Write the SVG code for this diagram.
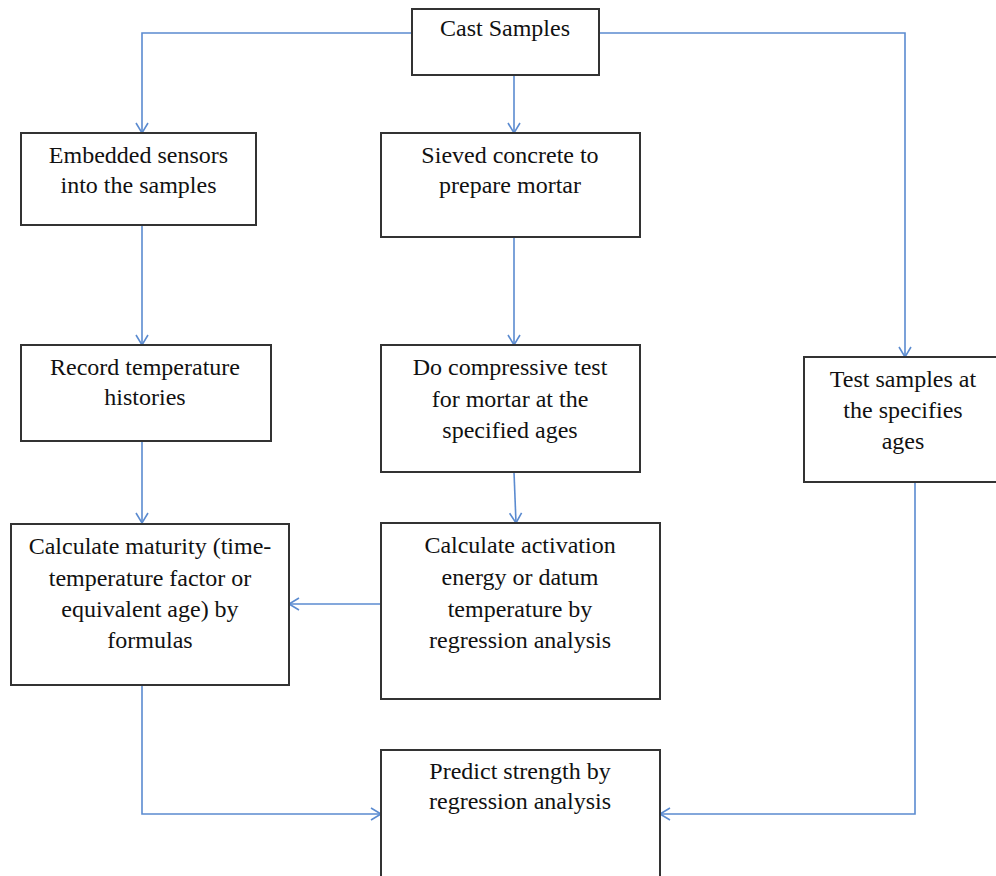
<svg xmlns="http://www.w3.org/2000/svg" width="996" height="876" viewBox="0 0 996 876">
<style>
.box{fill:#fff;stroke:#333;stroke-width:2}
.t{font-family:"Liberation Serif","Times New Roman",serif;font-size:24px;fill:#111;text-anchor:middle}
.c{fill:none;stroke:#5b8bd0;stroke-width:1.6;marker-end:url(#ah)}
</style>
<defs>
<marker id="ah" markerUnits="userSpaceOnUse" markerWidth="14" markerHeight="16" refX="11" refY="7" orient="auto" viewBox="0 0 14 14">
<path d="M1,1 L11,7 L1,13" fill="none" stroke="#5b8bd0" stroke-width="1.6"/>
</marker>
</defs>
<rect width="996" height="876" fill="#fff"/>
<g id="connectors">
<path class="c" d="M412,33 H142 V133"/>
<path class="c" d="M599,33 H905 V357"/>
<path class="c" d="M514,75 V133"/>
<path class="c" d="M142,225 V345"/>
<path class="c" d="M514,237 V345"/>
<path class="c" d="M142,441 V523"/>
<path class="c" d="M514,472 L516,523"/>
<path class="c" d="M381,604 H289"/>
<path class="c" d="M142,685 V814 H381"/>
<path class="c" d="M915,482 V814 H660"/>
</g>
<g id="cast">
<rect class="box" x="412" y="9" width="187" height="66"/>
<text class="t" x="505" y="36">Cast Samples</text>
</g>
<g id="embedded">
<rect class="box" x="21" y="133" width="235" height="92"/>
<text class="t" x="138.5" y="163">Embedded sensors</text>
<text class="t" x="138.5" y="193">into the samples</text>
</g>
<g id="sieved">
<rect class="box" x="381" y="133" width="259" height="104"/>
<text class="t" x="510" y="163">Sieved concrete to</text>
<text class="t" x="510" y="193">prepare mortar</text>
</g>
<g id="record">
<rect class="box" x="21" y="345" width="250" height="96"/>
<text class="t" x="145" y="375">Record temperature</text>
<text class="t" x="145" y="405">histories</text>
</g>
<g id="compressive">
<rect class="box" x="381" y="345" width="259" height="127"/>
<text class="t" x="510" y="375">Do compressive test</text>
<text class="t" x="510" y="407">for mortar at the</text>
<text class="t" x="510" y="438">specified ages</text>
</g>
<g id="testsamples">
<rect class="box" x="804" y="357" width="200" height="125"/>
<text class="t" x="903" y="387">Test samples at</text>
<text class="t" x="903" y="418">the specifies</text>
<text class="t" x="903" y="449">ages</text>
</g>
<g id="maturity">
<rect class="box" x="11" y="524" width="278" height="161"/>
<text class="t" x="150" y="554">Calculate maturity (time-</text>
<text class="t" x="150" y="586">temperature factor or</text>
<text class="t" x="150" y="617">equivalent age) by</text>
<text class="t" x="150" y="648">formulas</text>
</g>
<g id="activation">
<rect class="box" x="381" y="523" width="279" height="176"/>
<text class="t" x="520" y="553">Calculate activation</text>
<text class="t" x="520" y="585">energy or datum</text>
<text class="t" x="520" y="617">temperature by</text>
<text class="t" x="520" y="648">regression analysis</text>
</g>
<g id="predict">
<rect class="box" x="381" y="750" width="279" height="140"/>
<text class="t" x="520" y="779">Predict strength by</text>
<text class="t" x="520" y="809">regression analysis</text>
</g>
</svg>
